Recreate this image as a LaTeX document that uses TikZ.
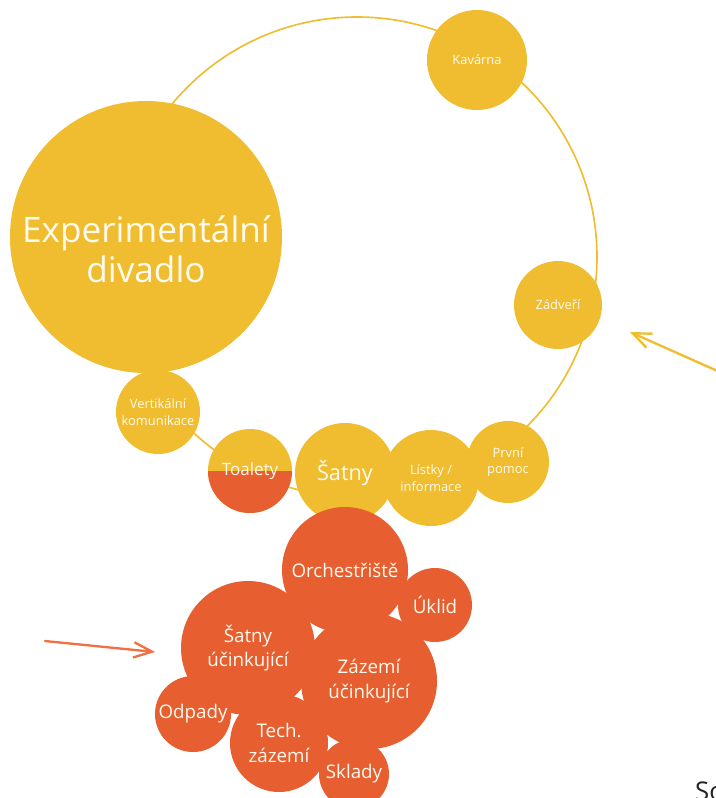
\documentclass[tikz,border=0pt]{standalone}
\usepackage{fontspec}
\setmainfont{Open Sans}
\usetikzlibrary{arrows.meta}
\definecolor{Gold}{RGB}{239,189,47}
\definecolor{Rust}{RGB}{231,94,48}
\definecolor{LightRust}{RGB}{240,112,68}
\definecolor{Cream}{RGB}{255,250,238}
\definecolor{Ink}{RGB}{35,35,35}
\tikzset{
  bubble/.style={circle, fill=Gold, text=Cream, align=center, inner sep=0pt, minimum size=#1*0.6mm, font=\fontsize{11}{14}\selectfont},
  hall/.style={bubble=#1, fill=Rust, font=\fontsize{16}{21}\selectfont},
  headline/.style={text=Cream, align=center, inner sep=0pt, yshift=-3.6mm, font=\fontsize{30}{34}\selectfont},
  ring/.style={draw=Gold, line width=1.4pt},
  pointer/.style={-{Straight Barb[length=5.5mm,width=4.6mm]}, line width=2pt, line cap=round, line join=round}
}

\begin{document}
\begin{tikzpicture}[x=0.3mm, y=-0.3mm]
\useasboundingbox (0,0) rectangle (715,798);
\draw[ring] (357,257) circle[radius=240];

\node[bubble=136, label={[headline]center:Experimentální\\divadlo}] (theatre) at (146,237) {};
\node[bubble=50] (cafe) at (477,60) {Kavárna};
\node[bubble=44] (lobby) at (558,305) {Zádveří};
\node[bubble=41] (aid) at (508,462) {První\\pomoc};
\node[bubble=50, font=\fontsize{18.5}{22}\selectfont] (cloak) at (345,473) {Šatny};
\node[bubble=48] (tickets) at (431,478) {Lístky /\\informace};
\node[bubble=42, font=\fontsize{14.5}{17}\selectfont, path picture={\fill[Rust] (path picture bounding box.west) rectangle (path picture bounding box.south east);}] (wc) at (250,471) {Toalety};
\node[bubble=42] (lift) at (158,412) {Vertikální\\komunikace};

\node[hall=63] (pit) at (345,570) {Orchestřiště};
\node[hall=67] (dress) at (248,648) {Šatny\\účinkující};
\node[hall=68] (backstage) at (369,681) {Zázemí\\účinkující};
\node[hall=37] (clean) at (435,605) {Úklid};
\node[hall=49] (tech) at (279,743) {Tech.\\zázemí};
\node[hall=38] (waste) at (193,714) {Odpady};
\node[hall=35] (store) at (354,774) {Sklady};

\coordinate (sunTail) at (722,373);
\coordinate (sunTip) at (630,332);
\draw[pointer, Gold] (sunTail) -- (sunTip);
\coordinate (rustTail) at (45,641);
\coordinate (rustTip) at (155,652);
\draw[pointer, LightRust] (rustTail) -- (rustTip);

\node[anchor=base west, text=Ink, font=\fontsize{22}{26}\selectfont, inner sep=0pt] (note) at (695,800) {So};
\end{tikzpicture}
\end{document}
